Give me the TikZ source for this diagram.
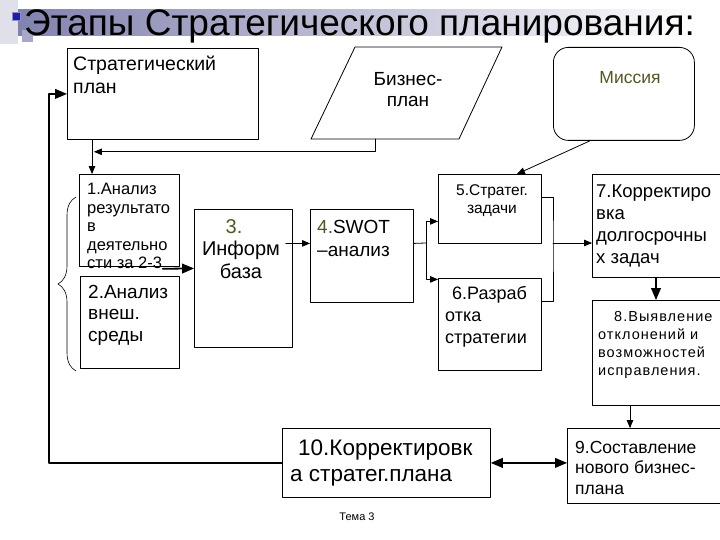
\documentclass[tikz,border=0pt]{standalone}
\usepackage{fontspec}
\setmainfont{Liberation Sans}
\usepackage{tikz}
\usetikzlibrary{arrows,decorations.pathreplacing}
\newcommand\tsz[2]{\fontsize{#1}{#2}\selectfont}
\definecolor{olive3}{RGB}{85,85,35}
\definecolor{bandc}{RGB}{130,130,175}
\definecolor{puce}{RGB}{30,30,160}

\begin{document}
\begin{tikzpicture}[line cap=round,line join=round,>=triangle 45,x=1pt,y=-1pt,
	bloc/.style={draw,line width=0.8pt,inner sep=0pt,anchor=north west},
	txt/.style={inner sep=0pt,anchor=north west,align=left},
	gros/.style={line width=1.8pt}]
		\useasboundingbox (0,0) rectangle (720,540);
		%titre
		\fill[color=bandc!25] (0,0) rectangle (18,44);
		\fill[left color=bandc,right color=white] (18,10) rectangle (700,36);
		\fill[color=bandc!70] (22,30) rectangle (33,42);
		\filldraw[fill=puce,draw=puce!50] (12,12) rectangle (20,20);
		\node[anchor=base west,inner sep=0pt,font=\tsz{37}{40}] (titre) at (24,36) {Этапы Стратегического планирования:};
		%Strategicheskij plan
		\node[bloc,minimum width=191,minimum height=91] (plan) at (67,48) {};
		\node[txt,font=\tsz{19.5}{23}] (tplan) at (73,56) {Стратегический\\план};
		%Biznes-plan
		\draw[line width=0.8pt] (311,139) -- (355,47) -- (502,47) -- (459,139) -- cycle;
		\node[inner sep=0pt,anchor=north,align=center,font=\tsz{19}{21.5}] (biz) at (408,72) {Бизнес-\\план};
		\coordinate (bizb) at (375,139);
		%Missija
		\node[bloc,rounded corners=15pt,minimum width=141,minimum height=93] (miss) at (553,47) {};
		\node[inner sep=0pt,anchor=north,text=olive3,font=\tsz{17.5}{20}] (tmiss) at (630,71) {Миссия};
		%Bloc 1
		\node[bloc,minimum width=100,minimum height=92] (b1) at (79,174) {};
		\node[txt,font=\tsz{16.5}{18.5}] (t1) at (87,183) {1.Анализ\\результато\\в\\деятельно\\сти за 2-3};
		%Bloc 2
		\node[bloc,minimum width=99,minimum height=92] (b2) at (80,276) {};
		\node[txt,font=\tsz{19}{21.5}] (t2) at (88,285) {2.Анализ\\внеш.\\среды};
		\draw[line width=0.6pt,decorate,decoration={brace,amplitude=18pt,aspect=0.5}] (76,371) -- (76,197);
		%Bloc 3
		\node[bloc,minimum width=98,minimum height=138] (b3) at (194,209) {};
		\node[inner sep=0pt,anchor=north,align=center,font=\tsz{20}{22.5}] (t3) at (241,219) {\hspace*{-14pt}\textcolor{olive3}{3.}\\Информ\\база};
		%Bloc 4
		\node[bloc,minimum width=103,minimum height=93] (b4) at (310,209) {};
		\node[txt,font=\tsz{19}{23}] (t4) at (317,220) {\textcolor{olive3}{4.}SWOT\\–анализ};
		%Bloc 5
		\node[bloc,minimum width=103,minimum height=69] (b5) at (438,174) {};
		\node[inner sep=0pt,anchor=north,align=center,font=\tsz{15.5}{18}] (t5) at (492,184) {5.Стратег.\\задачи};
		%Bloc 6
		\node[bloc,minimum width=103,minimum height=92] (b6) at (438,278) {};
		\node[txt,font=\tsz{18}{22}] (t6) at (445,286) {\hspace*{7pt}6.Разраб\\отка\\стратегии};
		%Bloc 7
		\node[bloc,minimum width=130,minimum height=103] (b7) at (592,174) {};
		\node[txt,font=\tsz{18.5}{22}] (t7) at (596,185) {7.Корректиро\\вка\\долгосрочны\\х задач};
		%Bloc 8
		\node[bloc,minimum width=130,minimum height=105] (b8) at (592,300) {};
		\node[txt,font=\tsz{14.5}{18}\addfontfeature{LetterSpace=7}] (t8) at (598,311) {\hspace*{16pt}8.Выявление\\отклонений и\\возможностей\\исправления.};
		%Bloc 9
		\node[bloc,minimum width=155,minimum height=75] (b9) at (567,428) {};
		\node[txt,font=\tsz{17.5}{20.5}] (t9) at (575,441) {9.Составление\\нового бизнес-\\плана};
		%Bloc 10
		\node[bloc,minimum width=208,minimum height=69] (b10) at (282,428) {};
		\node[txt,font=\tsz{22.5}{26}] (t10) at (290,440) {\hspace*{8pt}10.Корректировк\\а стратег.плана};
		\node[inner sep=0pt,font=\tsz{11}{13}] (tema) at (357,517) {Тема 3};
		%fleches
		\draw[->,line width=0.8pt] ([xshift=25pt]plan.south west) -- ([xshift=13pt]b1.north west);
		\draw[->,line width=0.8pt] (bizb) |- ([xshift=27pt,yshift=-12pt]plan.south west);
		\draw[->,line width=0.8pt] ([xshift=37pt]miss.south west) -- ([xshift=79pt]b5.north west);
		\draw[->,gros] ([xshift=-17pt,yshift=-2pt]b1.south east) -- ([yshift=10pt]b3.west);
		\draw[->,line width=0.8pt] ([xshift=-7pt,yshift=35pt]b3.east) -- ([yshift=12.5pt]b4.west);
		\coordinate (j) at (426,243);
		\draw[line width=0.8pt] ([yshift=12.5pt]b4.east) -- (j);
		\draw[->,line width=0.8pt] (j) |- ([yshift=-12.5pt]b5.west);
		\draw[->,line width=0.8pt] (j) |- ([yshift=45pt]b6.west);
		\coordinate (k) at (553,243);
		\draw[line width=0.8pt] ([yshift=11.5pt]b5.east) -| (k) |- ([yshift=23pt]b6.east);
		\draw[->,line width=0.8pt] (k) -- (b7.west |- k);
		\draw[->,gros] ([xshift=64pt]b7.south west) -- ([xshift=64pt]b8.north west);
		\draw[->,line width=0.8pt] ([xshift=38pt]b8.south west) -- ([xshift=63pt]b9.north west);
		\draw[<->,gros] (b10.east) -- (b9.west |- b10.east);
		\draw[->,gros] (b10.west) -- ++(-233,0) |- (plan.west);
		\end{tikzpicture}
\end{document}
